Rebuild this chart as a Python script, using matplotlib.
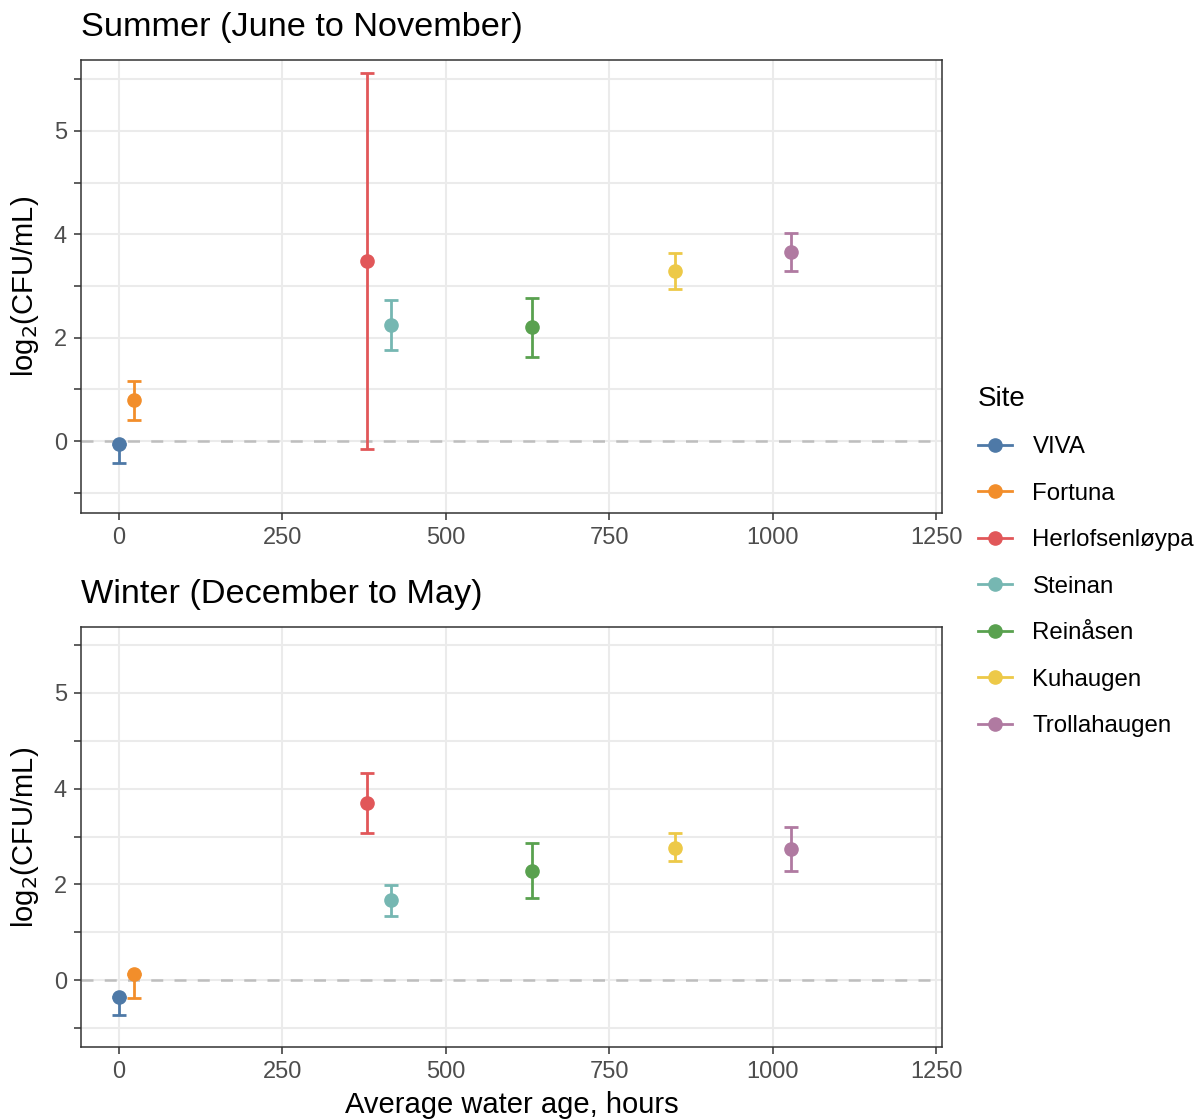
import matplotlib
matplotlib.use('Agg')
import matplotlib.pyplot as plt
from matplotlib.lines import Line2D

plt.rcParams['font.family'] = ['Liberation Sans', 'DejaVu Sans']

sites = ['VIVA', 'Fortuna', 'Herlofsenløypa', 'Steinan', 'Reinåsen', 'Kuhaugen', 'Trollahaugen']
colors = ['#4E79A7', '#F28E2B', '#E15759', '#76B7B2', '#59A14F', '#EDC948', '#B07AA1']
water_age = [0, 23, 380, 416, 632, 850, 1028]

summer_mean = [-0.06, 0.79, 3.48, 2.25, 2.20, 3.29, 3.65]
summer_low = [-0.42, 0.41, -0.16, 1.77, 1.63, 2.95, 3.29]
summer_high = [-0.06, 1.16, 7.12, 2.72, 2.76, 3.63, 4.02]

winter_mean = [-0.35, 0.13, 3.70, 1.67, 2.29, 2.76, 2.74]
winter_low = [-0.73, -0.36, 3.08, 1.34, 1.72, 2.48, 2.29]
winter_high = [-0.35, 0.13, 4.33, 1.99, 2.87, 3.07, 3.19]

ytick_pos = [0, 2, 4, 6]
ytick_labels = ['0', '2', '4', '5']
yminor_pos = [-1, 1, 3, 5, 7]
xticks = [0, 250, 500, 750, 1000, 1250]

titles = ['Summer (June to November)', 'Winter (December to May)']

W, H = 1203, 1120
fig = plt.figure(figsize=(W / 100, H / 100), dpi=100)

def fx(px):
    return px / W

def fy(py):
    return 1 - py / H

ax_top = fig.add_axes([fx(81), fy(513), fx(942) - fx(81), fy(60) - fy(513)])
ax_bot = fig.add_axes([fx(81), fy(1047), fx(942) - fx(81), fy(627) - fy(1047)])

panels = [
    (ax_top, summer_mean, summer_low, summer_high, titles[0]),
    (ax_bot, winter_mean, winter_low, winter_high, titles[1]),
]

grid_c = '#EBEBEB'
for ax, mean, low, high, title in panels:
    ax.set_xlim(-58, 1259)
    ax.set_ylim(-1.39, 7.37)
    ax.set_xticks(xticks)
    ax.set_xticklabels([str(t) for t in xticks])
    ax.set_yticks(ytick_pos)
    ax.set_yticklabels(ytick_labels)
    ax.set_yticks(yminor_pos, minor=True)
    ax.grid(True, which='major', color=grid_c, lw=1.5, zorder=0)
    ax.grid(True, which='minor', axis='y', color=grid_c, lw=1.5, zorder=0)
    ax.set_axisbelow(True)
    ax.tick_params(which='both', direction='out', length=5, width=1.1,
                   color='#333333', labelcolor='#4D4D4D', labelsize=17, pad=5)
    for s in ax.spines.values():
        s.set_color('#333333')
        s.set_linewidth(1.1)
    ax.axhline(0, color='#BEBEBE', lw=1.8, ls=(0, (4.8, 4.5)), zorder=1)
    for i, site in enumerate(sites):
        ax.errorbar([water_age[i]], [mean[i]],
                    yerr=[[mean[i] - low[i]], [high[i] - mean[i]]],
                    fmt='o', color=colors[i], ms=9.5, elinewidth=2.0,
                    capsize=5, capthick=2.0, zorder=3)
    ax.set_ylabel(r'log$_2$(CFU/mL)', fontsize=21, labelpad=9)
    ax.set_title(title, loc='left', fontsize=24.7, pad=17)

ax_bot.set_xlabel('Average water age, hours', fontsize=21, labelpad=6)

handles = [Line2D([], [], color=c, marker='o', lw=2.0, ms=9.5) for c in colors]
leg = fig.legend(handles, sites, title='Site', loc='upper left',
                 bbox_to_anchor=(fx(956), fy(364)), frameon=False,
                 fontsize=17.3, title_fontsize=20, handlelength=1.45,
                 labelspacing=1.02, handletextpad=0.83, alignment='left')

fig.savefig('out.png', dpi=100)
